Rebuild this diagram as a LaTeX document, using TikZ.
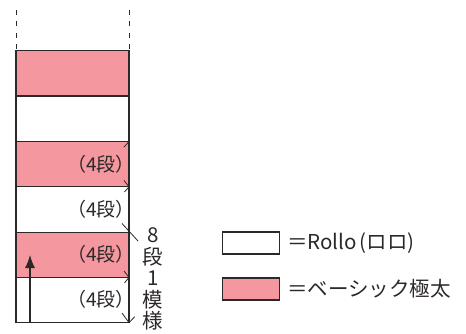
\documentclass[tikz,border=0pt]{standalone}
\usepackage{fontspec}
\setmainfont{Noto Sans CJK JP}
\usepackage{tikz}
\usetikzlibrary{arrows.meta}
\definecolor{bandpink}{RGB}{244,151,158}
\definecolor{inkgray}{RGB}{45,40,40}

\begin{document}
\begin{tikzpicture}[x=1pt,y=-1pt]
	\tikzstyle{frame}=[draw=inkgray,line width=1.1pt]
	\tikzstyle{tick}=[draw=inkgray,line width=0.8pt]
	\tikzstyle{dan}=[anchor=east,inner sep=0pt,text=inkgray,font=\fontsize{19}{19}\selectfont]
	\tikzstyle{legbox}=[draw=inkgray,line width=1.1pt,minimum width=57pt,minimum height=22pt,inner sep=0pt]
	\tikzstyle{legtext}=[anchor=west,inner sep=0pt,text=inkgray,font=\fontsize{20.5}{20.5}\selectfont]
	\useasboundingbox (0,0) rectangle (466,334);
	% dashed continuation
	\draw[tick,dash pattern=on 5pt off 6.5pt] (16,10) -- (16,50.7);
	\draw[tick,dash pattern=on 5pt off 6.5pt] (129,10) -- (129,50.7);
	% bands
	\fill[bandpink] (16,50.7) rectangle (129,96);
	\fill[bandpink] (16,141.7) rectangle (129,186.7);
	\fill[bandpink] (16,232.3) rectangle (129,277.3);
	\draw[frame] (16,50.7) rectangle (129,322.7);
	\draw[frame] (16,96) -- (129,96);
	\draw[frame] (16,141.7) -- (129,141.7);
	\draw[frame] (16,186.7) -- (129,186.7);
	\draw[frame] (16,232.3) -- (129,232.3);
	\draw[frame] (16,277.3) -- (129,277.3);
	% marks at the right edge
	\draw[tick] (124,147) -- (129,141.7);
	\draw[tick] (124,180.5) -- (129,186.7) -- (124.5,192);
	\draw[tick] (124,271) -- (129,277.3) -- (124.5,283);
	\draw[tick] (122,313) -- (129,322.7) -- (134.7,316.7);
	% labels of the bands
	\node[dan] (d1) at (135,164) {（4段）};
	\node[dan] (d2) at (135,209) {（4段）};
	\node[dan] (d3) at (135,254.5) {（4段）};
	\node[dan] (d4) at (135,299.5) {（4段）};
	% repeat label with leader
	\node[text=inkgray,align=center,inner sep=0pt,font=\fontsize{20.5}{21.5}\selectfont] (repeat) at (153,279) {8\\段\\1\\模\\様};
	\coordinate (leadfoot) at (138,241);
	\coordinate (leadend) at (122,223.5);
	\draw[tick] (leadfoot) -- (leadend);
	% direction arrow
	\coordinate (arrbase) at (30,322.7);
	\coordinate (arrtip) at (30,255);
	\draw[frame,-{Latex[length=13pt,width=10pt]}] (arrbase) -- (arrtip);
	% legend
	\node[legbox,fill=white] (legwhite) at (251,243) {};
	\node[legbox,fill=bandpink] (legpink) at (251,289) {};
	\node[legtext] (rollo) at (287,243) {＝Rollo\kern3pt(ロロ)};
	\node[legtext] (basic) at (287,289) {＝ベーシック極太};
\end{tikzpicture}
\end{document}
